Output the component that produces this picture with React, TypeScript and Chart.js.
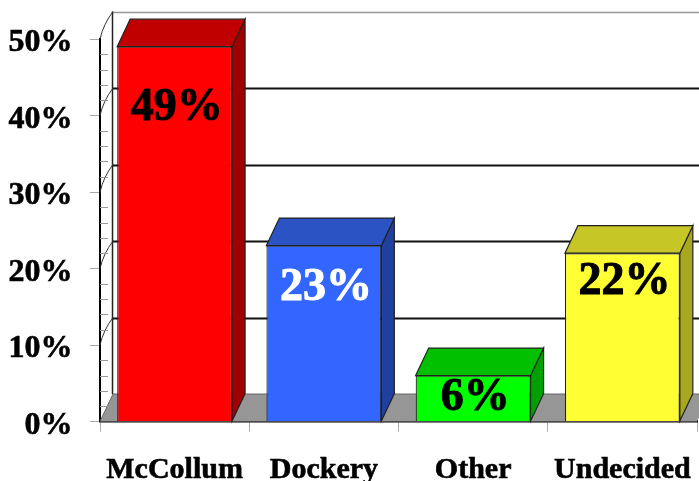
import React, { useEffect, useRef } from "react";
import { Chart, registerables } from "chart.js";

Chart.register(...registerables);

const categories = ["McCollum", "Dockery", "Other", "Undecided"];
const shares = [49, 23, 6, 22];
const yTicks = [0, 10, 20, 30, 40, 50];
const frontColors = ["#ff0000", "#3366ff", "#00ff00", "#ffff33"];
const topColors = ["#c00000", "#2b53c4", "#00c000", "#c6c626"];
const sideColors = ["#a00000", "#213f9e", "#00a000", "#a8a820"];
const labelColors = ["#000000", "#ffffff", "#000000", "#000000"];
const labelOffsets = [61, 43, 23, 29];

const DX = 13;
const DY = 27.5;
const FONT = "'Liberation Serif'";

const depthPlugin = {
  id: "depth",
  beforeDatasetsDraw(chart: any) {
    const { ctx, chartArea: a, scales } = chart;
    const y = scales.y;
    const W = chart.width;
    ctx.save();
    // floor
    ctx.fillStyle = "#969696";
    ctx.strokeStyle = "#666666";
    ctx.lineWidth = 1;
    ctx.beginPath();
    ctx.moveTo(a.left, a.bottom);
    ctx.lineTo(a.left + DX, a.bottom - DY);
    ctx.lineTo(a.right + DX, a.bottom - DY);
    ctx.lineTo(a.right, a.bottom);
    ctx.closePath();
    ctx.fill();
    ctx.beginPath();
    ctx.moveTo(a.left, a.bottom);
    ctx.lineTo(a.left + DX, a.bottom - DY);
    ctx.lineTo(W, a.bottom - DY);
    ctx.stroke();
    // back gridlines
    for (const t of yTicks) {
      if (t === 0) continue;
      const py = Math.round(y.getPixelForValue(t) - DY) + 0.5;
      ctx.strokeStyle = t === 50 ? "#999999" : "#111111";
      ctx.lineWidth = t === 50 ? 1.5 : 2;
      ctx.beginPath();
      ctx.moveTo(a.left + DX, py);
      ctx.lineTo(W, py);
      ctx.stroke();
    }
    // back wall edge
    ctx.strokeStyle = "#222222";
    ctx.lineWidth = 1.5;
    ctx.beginPath();
    ctx.moveTo(a.left + DX - 0.5, y.getPixelForValue(50) - DY);
    ctx.lineTo(a.left + DX - 0.5, a.bottom - DY);
    ctx.stroke();
    // side wall connectors
    ctx.strokeStyle = "#333333";
    ctx.lineWidth = 1;
    for (const t of yTicks) {
      if (t === 0) continue;
      const py = y.getPixelForValue(t);
      ctx.beginPath();
      ctx.moveTo(a.left, py);
      ctx.quadraticCurveTo(a.left + 3.5, py - DY * 0.55, a.left + DX, py - DY);
      ctx.stroke();
    }
    // minor ticks
    ctx.strokeStyle = "#999999";
    ctx.lineWidth = 1;
    for (let v = 0; v < 50; v += 2) {
      if (v % 10 === 0) continue;
      const py = Math.round(y.getPixelForValue(v)) + 0.5;
      ctx.beginPath();
      ctx.moveTo(a.left, py);
      ctx.lineTo(a.left + 8, py);
      ctx.stroke();
    }
    // bar sides and tops
    const meta = chart.getDatasetMeta(0);
    meta.data.forEach((el: any, i: number) => {
      const hw = el.width / 2;
      const x1 = el.x - hw;
      const x2 = el.x + hw;
      const top = el.y;
      const base = el.base;
      ctx.strokeStyle = "#222222";
      ctx.lineWidth = 1.2;
      ctx.fillStyle = sideColors[i];
      ctx.beginPath();
      ctx.moveTo(x2, base);
      ctx.lineTo(x2 + DX, base - DY);
      ctx.lineTo(x2 + DX, top - DY);
      ctx.lineTo(x2, top);
      ctx.closePath();
      ctx.fill();
      ctx.stroke();
      ctx.fillStyle = topColors[i];
      ctx.beginPath();
      ctx.moveTo(x1, top);
      ctx.lineTo(x1 + DX, top - DY);
      ctx.lineTo(x2 + DX, top - DY);
      ctx.lineTo(x2, top);
      ctx.closePath();
      ctx.fill();
      ctx.stroke();
    });
    ctx.restore();
  },
  afterDatasetsDraw(chart: any) {
    const { ctx } = chart;
    const meta = chart.getDatasetMeta(0);
    ctx.save();
    ctx.font = `bold 46px ${FONT}`;
    ctx.textAlign = "center";
    ctx.textBaseline = "middle";
    ctx.lineWidth = 1;
    meta.data.forEach((el: any, i: number) => {
      ctx.fillStyle = labelColors[i];
      ctx.strokeStyle = labelColors[i];
      ctx.fillText(`${shares[i]}%`, el.x + 2, el.y + labelOffsets[i]);
      ctx.strokeText(`${shares[i]}%`, el.x + 2, el.y + labelOffsets[i]);
    });
    ctx.restore();
  },
};

export default function App() {
  const ref = useRef<HTMLCanvasElement>(null);
  useEffect(() => {
    const chart = new Chart(ref.current!, {
      type: "bar",
      data: {
        labels: categories,
        datasets: [
          {
            data: shares,
            backgroundColor: frontColors,
            borderColor: "#222222",
            borderWidth: 1.2,
            barPercentage: 0.77,
            categoryPercentage: 1,
          },
        ],
      },
      options: {
        responsive: false,
        animation: false,
        layout: { padding: { top: 39, right: 2, left: 0, bottom: 0 } },
        plugins: { legend: { display: false }, tooltip: { enabled: false } },
        scales: {
          x: {
            grid: {
              drawOnChartArea: false,
              drawTicks: true,
              tickLength: 10,
              color: "#aaaaaa",
            },
            border: { color: "#000000", width: 2.5 },
            ticks: {
              color: "#000000",
              padding: 21,
              maxRotation: 0,
              autoSkip: false,
              textStrokeColor: "#000000",
              textStrokeWidth: 0.6,
              font: { family: "Liberation Serif", size: 30, weight: "bold" },
            },
            afterFit(s: any) {
              s.height = 59.5;
              s.paddingLeft = 0;
              s.paddingRight = 0;
            },
          },
          y: {
            min: 0,
            max: 50,
            grid: {
              drawOnChartArea: false,
              drawTicks: true,
              tickLength: 10,
              color: "#aaaaaa",
            },
            border: { color: "#000000", width: 2 },
            ticks: {
              color: "#000000",
              stepSize: 10,
              padding: 17.5,
              labelOffset: 4,
              textStrokeColor: "#000000",
              textStrokeWidth: 0.6,
              callback: (v: any) => `${v}%`,
              font: { family: "Liberation Serif", size: 32, weight: "bold" },
            },
            afterFit(s: any) {
              s.width = 100;
              s.paddingTop = 0;
              s.paddingBottom = 0;
            },
          },
        },
      },
      plugins: [depthPlugin],
    } as any);
    return () => chart.destroy();
  }, []);
  return (
    <div style={{ position: "absolute", left: 0, top: 0, width: 699, height: 481, overflow: "hidden", background: "#fff" }}>
      <canvas ref={ref} width={699} height={481} style={{ display: "block" }} />
    </div>
  );
}
